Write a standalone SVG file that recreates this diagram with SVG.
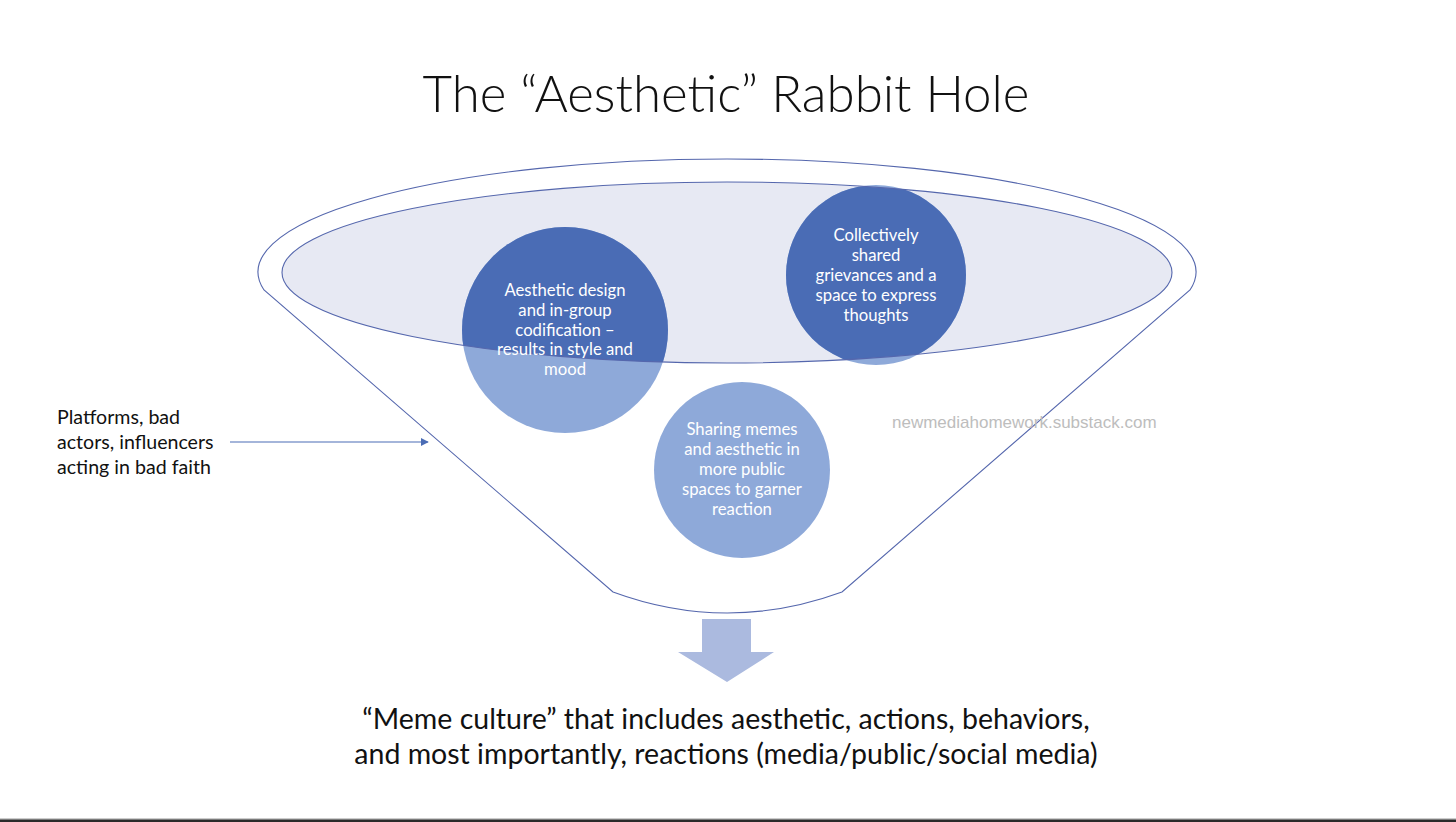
<svg xmlns="http://www.w3.org/2000/svg" width="1456" height="822" viewBox="0 0 1456 822">
<style>
.ln{fill:none;stroke:#5567AD;stroke-width:1.1}
.ct{font-family:Lato,"Open Sans",sans-serif;font-size:16.7px;fill:#fff;text-anchor:middle}
.lt{font-family:Lato,"Open Sans",sans-serif;font-size:19.6px;fill:#111}
.bt{font-family:Lato,"Open Sans",sans-serif;font-size:28.5px;fill:#111;text-anchor:middle}
.dark{fill:#4A6CB5}
.light{fill:#8EA9D9}
</style>
<defs>
<clipPath id="ec"><ellipse cx="727" cy="272.5" rx="445" ry="90.5"/></clipPath>
<marker id="ah" viewBox="0 0 10 10" refX="9" refY="5" markerWidth="8" markerHeight="8" orient="auto" markerUnits="userSpaceOnUse"><path d="M0,0 L10,5 L0,10 Z" fill="#4A6CB5"/></marker>
</defs>
<rect width="1456" height="822" fill="#fff"/>
<g id="title"><text x="726" y="112" text-anchor="middle" font-family="Lato,'Open Sans',sans-serif" font-weight="300" font-size="51" fill="#111">The “Aesthetic” Rabbit Hole</text></g>
<g id="funnel">
<path class="ln" d="M264,290 A469 113 0 1 1 1190,290 L842,592 Q727,634 613,592 Z" fill="#fff"/>
<ellipse cx="727" cy="272.5" rx="445" ry="90.5" fill="#E7E9F3"/>
</g>
<g id="circle-aesthetic">
<circle class="light" cx="565" cy="330" r="103"/>
<circle class="dark" cx="565" cy="330" r="103" clip-path="url(#ec)"/>
</g>
<g id="circle-grievances">
<circle class="light" cx="876" cy="275" r="90"/>
<circle class="dark" cx="876" cy="275" r="90" clip-path="url(#ec)"/>
</g>
<g id="circle-sharing">
<circle class="light" cx="742" cy="470" r="88"/>
</g>
<ellipse class="ln" cx="727" cy="272.5" rx="445" ry="90.5"/>
<g id="labels">
<text class="ct"><tspan x="565" y="296">Aesthetic design</tspan><tspan x="565" y="316">and in-group</tspan><tspan x="565" y="336">codification –</tspan><tspan x="565" y="355">results in style and</tspan><tspan x="565" y="375">mood</tspan></text>
<text class="ct"><tspan x="876" y="241">Collectively</tspan><tspan x="876" y="261">shared</tspan><tspan x="876" y="281">grievances and a</tspan><tspan x="876" y="301">space to express</tspan><tspan x="876" y="321">thoughts</tspan></text>
<text class="ct"><tspan x="742" y="435">Sharing memes</tspan><tspan x="742" y="455">and aesthetic in</tspan><tspan x="742" y="475">more public</tspan><tspan x="742" y="495">spaces to garner</tspan><tspan x="742" y="515">reaction</tspan></text>
</g>
<g id="source"><text class="lt"><tspan x="57" y="424">Platforms, bad</tspan><tspan x="57" y="449">actors, influencers</tspan><tspan x="57" y="474">acting in bad faith</tspan></text></g>
<g id="watermark"><text x="892" y="428" font-family="'Liberation Sans',Arial,sans-serif" font-size="17" fill="#BDBDBD">newmediahomework.substack.com</text></g>
<g id="connectors">
<line x1="230" y1="442" x2="428" y2="442" stroke="#4A6CB5" stroke-width="1.1" marker-end="url(#ah)"/>
<path d="M702,619 H751 V652 H774 L727,682 L678,652 H702 Z" fill="#ABBADF"/>
</g>
<g id="result"><text class="bt"><tspan x="726" y="729">“Meme culture” that includes aesthetic, actions, behaviors,</tspan><tspan x="726" y="764">and most importantly, reactions (media/public/social media)</tspan></text></g>
<rect x="0" y="818.5" width="1456" height="1" fill="#999"/>
<rect x="0" y="819.5" width="1456" height="2.5" fill="#2a2a2a"/>
</svg>
